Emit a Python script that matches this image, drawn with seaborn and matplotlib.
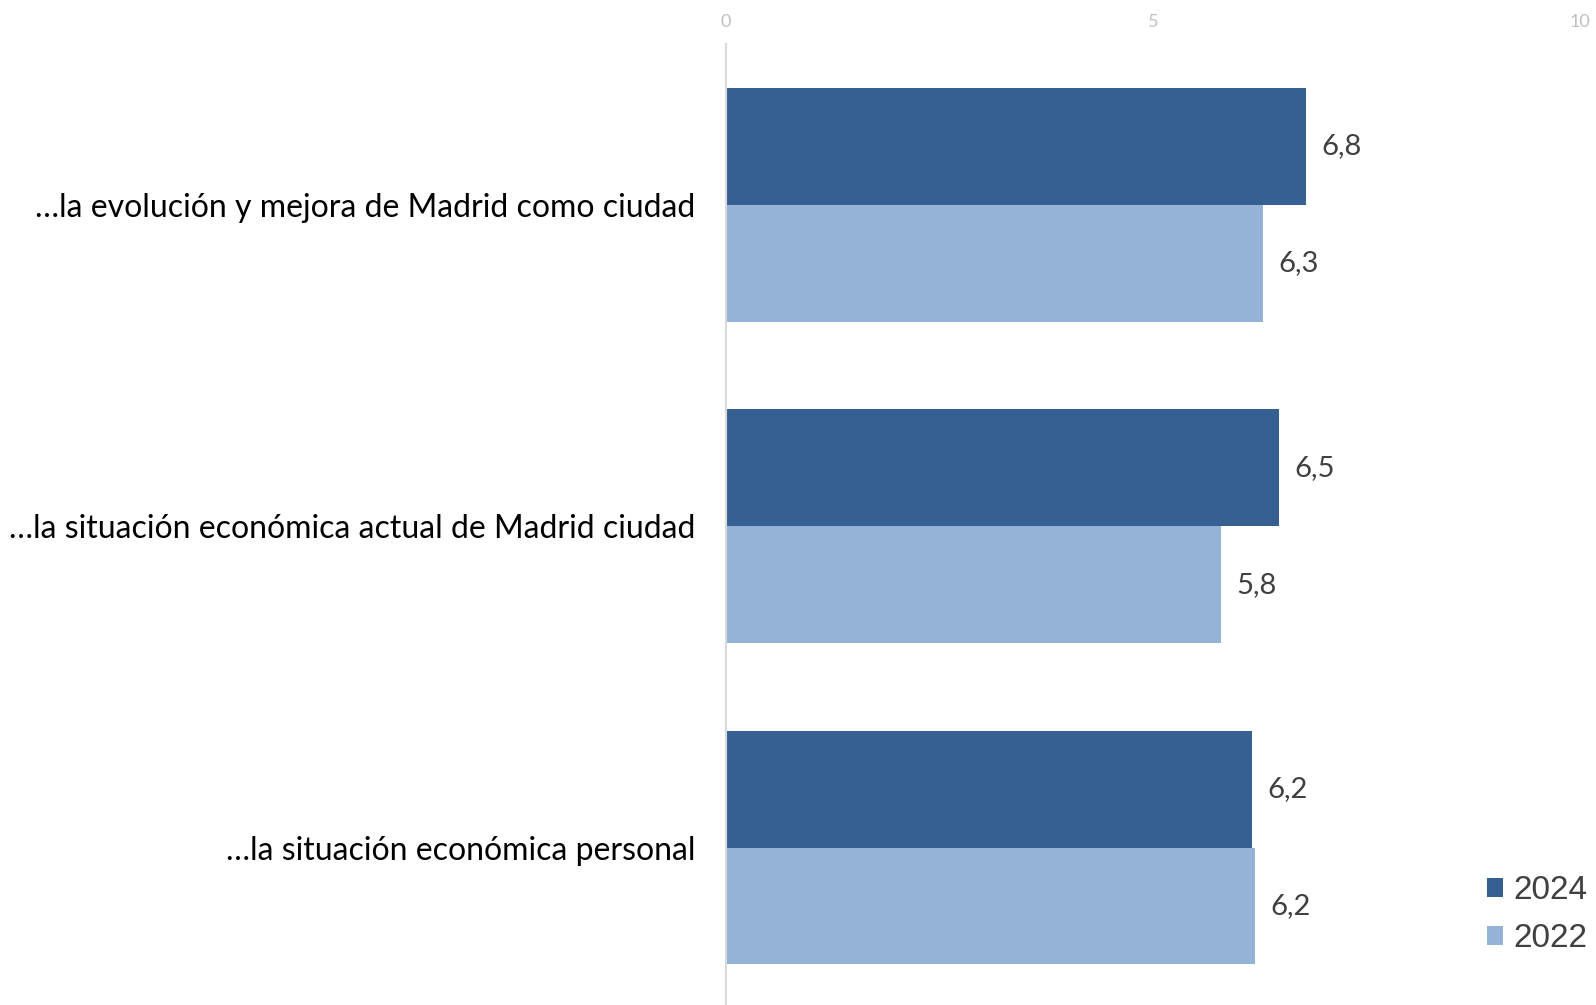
import pandas as pd
import matplotlib.pyplot as plt
import seaborn as sns

# values (scale 0-10)
categories = [
    '…la evolución y mejora de Madrid como ciudad',
    '…la situación económica actual de Madrid ciudad',
    '…la situación económica personal',
]
years = ['2024', '2022']
values_2024 = [6.79, 6.47, 6.16]
values_2022 = [6.29, 5.79, 6.19]
xticks = [0, 5, 10]

df = pd.DataFrame({
    'categoria': categories * 2,
    'año': [years[0]] * 3 + [years[1]] * 3,
    'valor': values_2024 + values_2022,
})

sns.set_theme(style='white')
plt.rcParams['font.family'] = ['Lato', 'DejaVu Sans']

fig = plt.figure(figsize=(15.96, 10.05), dpi=100)
ax = fig.add_axes([0.455, 0.0, 0.535, 0.956])

palette = {'2024': '#366092', '2022': '#95B3D7'}
sns.barplot(data=df, x='valor', y='categoria', hue='año', hue_order=years,
            order=categories, palette=palette, orient='h', width=0.727,
            gap=0, saturation=1, linewidth=0, ax=ax)

for cont in ax.containers:
    labels = [f'{b.get_width():.1f}'.replace('.', ',') for b in cont]
    ax.bar_label(cont, labels=labels, padding=11, fontsize=21, color='#404040')

ax.set_xlim(0, 10)
ax.set_ylim(2.49, -0.5)
ax.set_xticks(xticks)
ax.set_xticklabels([str(t) for t in xticks])
ax.xaxis.tick_top()
ax.tick_params(axis='x', length=0, labelsize=13, labelcolor='#BFBFBF', pad=10)
ax.tick_params(axis='y', length=0, labelsize=23, labelcolor='black', pad=22)
ax.set_xlabel('')
ax.set_ylabel('')

for s in ['top', 'right', 'bottom']:
    ax.spines[s].set_visible(False)
ax.spines['left'].set_color('#D9D9D9')
ax.spines['left'].set_linewidth(1.5)

leg = ax.legend(loc='lower right', bbox_to_anchor=(1.003, 0.037),
                bbox_transform=fig.transFigure, frameon=False,
                prop={'family': 'Liberation Sans', 'size': 24},
                handlelength=0.5, handleheight=0.5, handletextpad=0.3,
                labelspacing=0.52, borderaxespad=0)
for t in leg.get_texts():
    t.set_color('#404040')

fig.savefig('out.png', dpi=100)
